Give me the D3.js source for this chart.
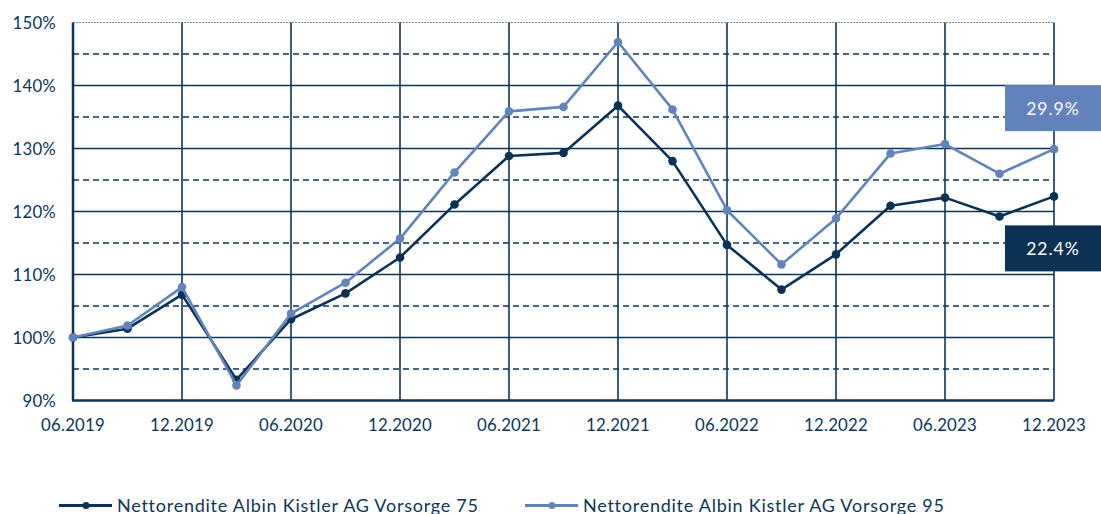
<!DOCTYPE html>
<html lang="de">
<head>
  <meta charset="UTF-8">
  <script src="https://cdnjs.cloudflare.com/ajax/libs/d3/7.8.5/d3.min.js"></script>
  <style>
    body { margin: 0; background: #fff; font-family: 'Lato', sans-serif; }
    .tick-label { font-size: 16.8px; fill: #0d3557; letter-spacing: 0.2px; }
    .legend { font-size: 18px; fill: #0d3557; letter-spacing: 0.75px; }
  </style>
  <title>Nettorendite</title>
</head>
<body>
<div id="chart"></div>
<script>
  // quarterly points, 06.2019 .. 12.2023
  const quarters = ["06.2019", "09.2019", "12.2019", "03.2020", "06.2020", "09.2020", "12.2020",
    "03.2021", "06.2021", "09.2021", "12.2021", "03.2022", "06.2022", "09.2022", "12.2022",
    "03.2023", "06.2023", "09.2023", "12.2023"];
  const vorsorge75 = [100, 101.4, 106.8, 93.3, 102.9, 107.0, 112.7, 121.1, 128.8, 129.3, 136.8,
    128.0, 114.7, 107.6, 113.2, 120.9, 122.2, 119.2, 122.4];
  const vorsorge95 = [100, 101.9, 108.0, 92.4, 103.8, 108.7, 115.7, 126.2, 135.9, 136.6, 146.9,
    136.2, 120.2, 111.6, 118.9, 129.2, 130.7, 126.0, 129.9];
  const yTicks = [90, 100, 110, 120, 130, 140, 150];
  const yMinor = [95, 105, 115, 125, 135, 145];
  const series = [
    { name: "Nettorendite Albin Kistler AG Vorsorge 75", values: vorsorge75, color: "#0b3155", label: "22.4%" },
    { name: "Nettorendite Albin Kistler AG Vorsorge 95", values: vorsorge95, color: "#6383bd", label: "29.9%" }
  ];

  const W = 1101, H = 514;
  const mLeft = 73, mRight = 1054, mTop = 22.5, mBottom = 400.5;
  const ink = "#0d3557";

  const svg = d3.select("#chart").append("svg")
    .attr("width", W).attr("height", H);

  const x = d3.scaleLinear().domain([0, quarters.length - 1]).range([mLeft, mRight]);
  const y = d3.scaleLinear().domain([90, 150]).range([mBottom, mTop]);

  // horizontal grid (dashed at the 5% steps)
  svg.append("g").selectAll("line").data(yMinor).join("line")
    .attr("x1", mLeft).attr("x2", mRight)
    .attr("y1", d => y(d)).attr("y2", d => y(d))
    .attr("stroke", ink).attr("stroke-width", 1.5).attr("stroke-dasharray", "6,4");
  svg.append("g").selectAll("line").data(yTicks.slice(1, -1)).join("line")
    .attr("x1", mLeft).attr("x2", mRight)
    .attr("y1", d => y(d)).attr("y2", d => y(d))
    .attr("stroke", ink).attr("stroke-width", 1.5);
  // top border is only a faint dotted line
  svg.append("line")
    .attr("x1", mLeft).attr("x2", mRight).attr("y1", y(150)).attr("y2", y(150))
    .attr("stroke", "#7d8fa3").attr("stroke-width", 1.2).attr("stroke-dasharray", "2,1");

  // vertical grid every half year
  const halfYears = d3.range(0, quarters.length, 2);
  svg.append("g").selectAll("line").data(halfYears).join("line")
    .attr("x1", d => x(d)).attr("x2", d => x(d))
    .attr("y1", y(150)).attr("y2", y(90))
    .attr("stroke", ink).attr("stroke-width", d => d === 0 ? 2.5 : 1.6);
  // bottom axis line
  svg.append("line")
    .attr("x1", mLeft - 1).attr("x2", mRight).attr("y1", y(90)).attr("y2", y(90))
    .attr("stroke", ink).attr("stroke-width", 2.5);

  // y labels
  svg.append("g").selectAll("text").data(yTicks).join("text")
    .attr("class", "tick-label")
    .attr("x", 56).attr("y", d => y(d) + 6)
    .attr("text-anchor", "end")
    .text(d => d + "%");

  // x labels
  svg.append("g").selectAll("text").data(halfYears).join("text")
    .attr("class", "tick-label")
    .attr("x", d => x(d)).attr("y", 431)
    .attr("text-anchor", "middle")
    .text(d => quarters[d]);

  // lines + dots
  const line = d3.line().x((d, i) => x(i)).y(d => y(d));
  series.forEach(s => {
    svg.append("path")
      .datum(s.values)
      .attr("fill", "none")
      .attr("stroke", s.color)
      .attr("stroke-width", 2.6)
      .attr("stroke-linejoin", "round")
      .attr("d", line);
    svg.append("g").selectAll("circle").data(s.values).join("circle")
      .attr("cx", (d, i) => x(i)).attr("cy", d => y(d))
      .attr("r", 4.3).attr("fill", s.color);
  });

  // end value boxes
  const last = quarters.length - 1;
  const boxes = [
    { s: series[1], cy: y(vorsorge95[last]) - 41 },
    { s: series[0], cy: y(vorsorge75[last]) + 52 }
  ];
  boxes.forEach(b => {
    svg.append("rect")
      .attr("x", 1005).attr("y", b.cy - 23)
      .attr("width", 96).attr("height", 46)
      .attr("fill", b.s.color);
    svg.append("text")
      .attr("x", 1053).attr("y", b.cy + 6.5)
      .attr("text-anchor", "middle")
      .attr("fill", "#fff")
      .style("font-size", "17.5px")
      .style("letter-spacing", "1px")
      .text(b.s.label);
  });

  // legend
  const legendX = [59, 525];
  series.forEach((s, i) => {
    const g = svg.append("g").attr("transform", `translate(${legendX[i]},505.5)`);
    g.append("line").attr("x1", 0).attr("x2", 53).attr("y1", 0).attr("y2", 0)
      .attr("stroke", s.color).attr("stroke-width", 3);
    g.append("circle").attr("cx", 27).attr("cy", 0).attr("r", 3.5).attr("fill", s.color);
    g.append("text").attr("class", "legend").attr("x", 58).attr("y", 6).text(s.name);
  });
</script>
</body>
</html>
